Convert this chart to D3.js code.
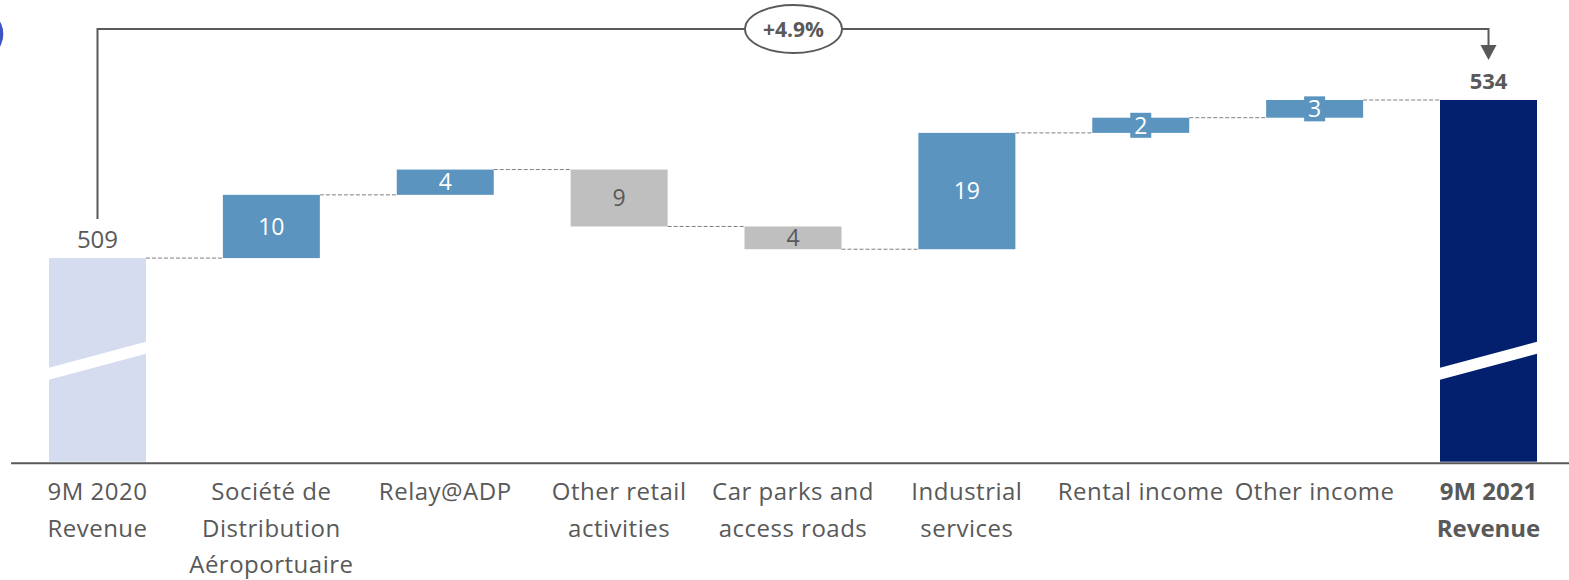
<!DOCTYPE html>
<html><head><meta charset="utf-8">
<script src="https://cdn.jsdelivr.net/npm/d3@7"></script>
<style>body{margin:0;background:#fff}svg{display:block}</style>
</head><body>
<svg id="c" width="1569" height="580"></svg>
<script>
// ---- data ----
const categories = ["9M 2020 Revenue","Société de Distribution Aéroportuaire","Relay@ADP","Other retail activities","Car parks and access roads","Industrial services","Rental income","Other income","9M 2021 Revenue"];
const tickLabels = [["9M 2020","Revenue"],["Société de","Distribution","Aéroportuaire"],["Relay@ADP"],["Other retail","activities"],["Car parks and","access roads"],["Industrial","services"],["Rental income"],["Other income"],["9M 2021","Revenue"]];
const startValue = 509;
const deltas = [10, 4, -9, -3.6, 18.4, 2.4, 2.8];
const endValue = 534;
const valueLabels = ["509","10","4","9","4","19","2","3","534"];
const growthLabel = "+4.9%";
const axisMin = 476.8;

// ---- layout ----
const FONT = "'Open Sans', 'DejaVu Sans', sans-serif";
const GREY = "#595959";
const C_START = "#d5dcf0", C_UP = "#5b95bf", C_DOWN = "#bfbfbf", C_END = "#03206f";

const svg = d3.select("#c");
const x = d3.scaleBand().domain(categories).range([10.55, 1575.45]).paddingInner(0.4422).paddingOuter(0.2211);
const y = d3.scaleLinear().domain([axisMin, endValue]).range([461.7, 100]);

// build bars
const bars = [];
bars.push({cat: categories[0], lo: axisMin, hi: startValue, color: C_START, kind: "total", label: valueLabels[0]});
let cum = startValue;
deltas.forEach((d, i) => {
  const a = cum, b = cum + d;
  bars.push({cat: categories[i+1], lo: Math.min(a,b), hi: Math.max(a,b), end: b, color: d >= 0 ? C_UP : C_DOWN, kind: "delta", up: d >= 0, label: valueLabels[i+1]});
  cum = b;
});
bars.push({cat: categories[8], lo: axisMin, hi: endValue, color: C_END, kind: "total", label: valueLabels[8]});

// connectors
const levels = [startValue];
{ let c = startValue; deltas.forEach(d => { c += d; levels.push(c); }); }
levels.forEach((lv, i) => {
  svg.append("line")
    .attr("x1", x(categories[i]) + x.bandwidth()).attr("x2", x(categories[i+1]))
    .attr("y1", y(lv)).attr("y2", y(lv))
    .attr("stroke", "#7f7f7f").attr("stroke-width", 1).attr("stroke-dasharray", "4,2");
});

// bars
svg.selectAll("rect.bar").data(bars).join("rect").attr("class","bar")
  .attr("x", d => x(d.cat)).attr("width", x.bandwidth())
  .attr("y", d => y(d.hi)).attr("height", d => y(d.lo) - y(d.hi))
  .attr("fill", d => d.color);

// axis break stripes on total bars
bars.filter(d => d.kind === "total").forEach(d => {
  const x0 = x(d.cat), x1 = x0 + x.bandwidth(), yb = y(axisMin);
  svg.append("polygon")
    .attr("points", [[x0, yb-94],[x1, yb-120],[x1, yb-108],[x0, yb-82]].map(p => p.join(",")).join(" "))
    .attr("fill", "#fff");
});

// axis
const ax = svg.append("g").attr("transform", `translate(0,${y(axisMin)+1})`)
  .call(d3.axisBottom(x).tickSize(0).tickFormat(""));
ax.select(".domain").attr("stroke", GREY).attr("stroke-width", 2);

// tick labels
categories.forEach((c, i) => {
  const t = svg.append("text").attr("text-anchor","middle")
    .attr("font-family", FONT).attr("font-size", 24).attr("fill", GREY)
    .attr("letter-spacing", i === 8 ? 0 : 0.5)
    .attr("font-weight", i === 8 ? 700 : 400)
    .attr("x", x(c) + x.bandwidth()/2).attr("y", 500);
  tickLabels[i].forEach((ln, j) => t.append("tspan").attr("x", x(c) + x.bandwidth()/2).attr("dy", j ? 36.5 : 0).text(ln));
});

// value labels
bars.forEach((d, i) => {
  const cx = x(d.cat) + x.bandwidth()/2;
  if (d.kind === "total") {
    svg.append("text").attr("text-anchor","middle").attr("font-family", FONT)
      .attr("font-size", i === 8 ? 22 : 24).attr("font-weight", i === 8 ? 700 : 400)
      .attr("fill", GREY).attr("x", cx).attr("y", y(d.hi) - (i === 8 ? 11 : 10)).text(d.label);
  } else {
    const cy = (y(d.lo) + y(d.hi)) / 2;
    const h = y(d.lo) - y(d.hi);
    if (h < 20) {
      svg.append("rect").attr("x", cx - 10.5).attr("y", cy - 12.5).attr("width", 21).attr("height", 25).attr("fill", d.color);
    }
    svg.append("text").attr("text-anchor","middle").attr("font-family", FONT)
      .attr("font-size", 23).attr("fill", d.up ? "#fff" : GREY)
      .attr("x", cx).attr("y", cy).attr("dy", "0.36em").text(d.label);
  }
});

// growth bracket
const xs = x(categories[0]) + x.bandwidth()/2, xe = x(categories[8]) + x.bandwidth()/2;
const topY = 29;
svg.append("path")
  .attr("d", `M${xs},${y(startValue)-39} V${topY} H${xe} V47`)
  .attr("fill","none").attr("stroke", GREY).attr("stroke-width", 2);
svg.append("path").attr("d", `M${xe-8},45 L${xe+8},45 L${xe},60 Z`).attr("fill", GREY);
const ex = (xs + xe) / 2 + 0.5;
svg.append("ellipse").attr("cx", ex).attr("cy", topY).attr("rx", 48.5).attr("ry", 24)
  .attr("fill", "#fff").attr("stroke", GREY).attr("stroke-width", 1.8);
svg.append("text").attr("text-anchor","middle").attr("font-family", FONT).attr("font-size", 21)
  .attr("font-weight", 700).attr("fill", GREY).attr("x", ex).attr("y", topY).attr("dy","0.36em").text(growthLabel);

// decorative partial circle at left edge
svg.append("circle").attr("cx", -22).attr("cy", 34).attr("r", 25.3).attr("fill", "#3c55c2");
</script>
</body></html>
